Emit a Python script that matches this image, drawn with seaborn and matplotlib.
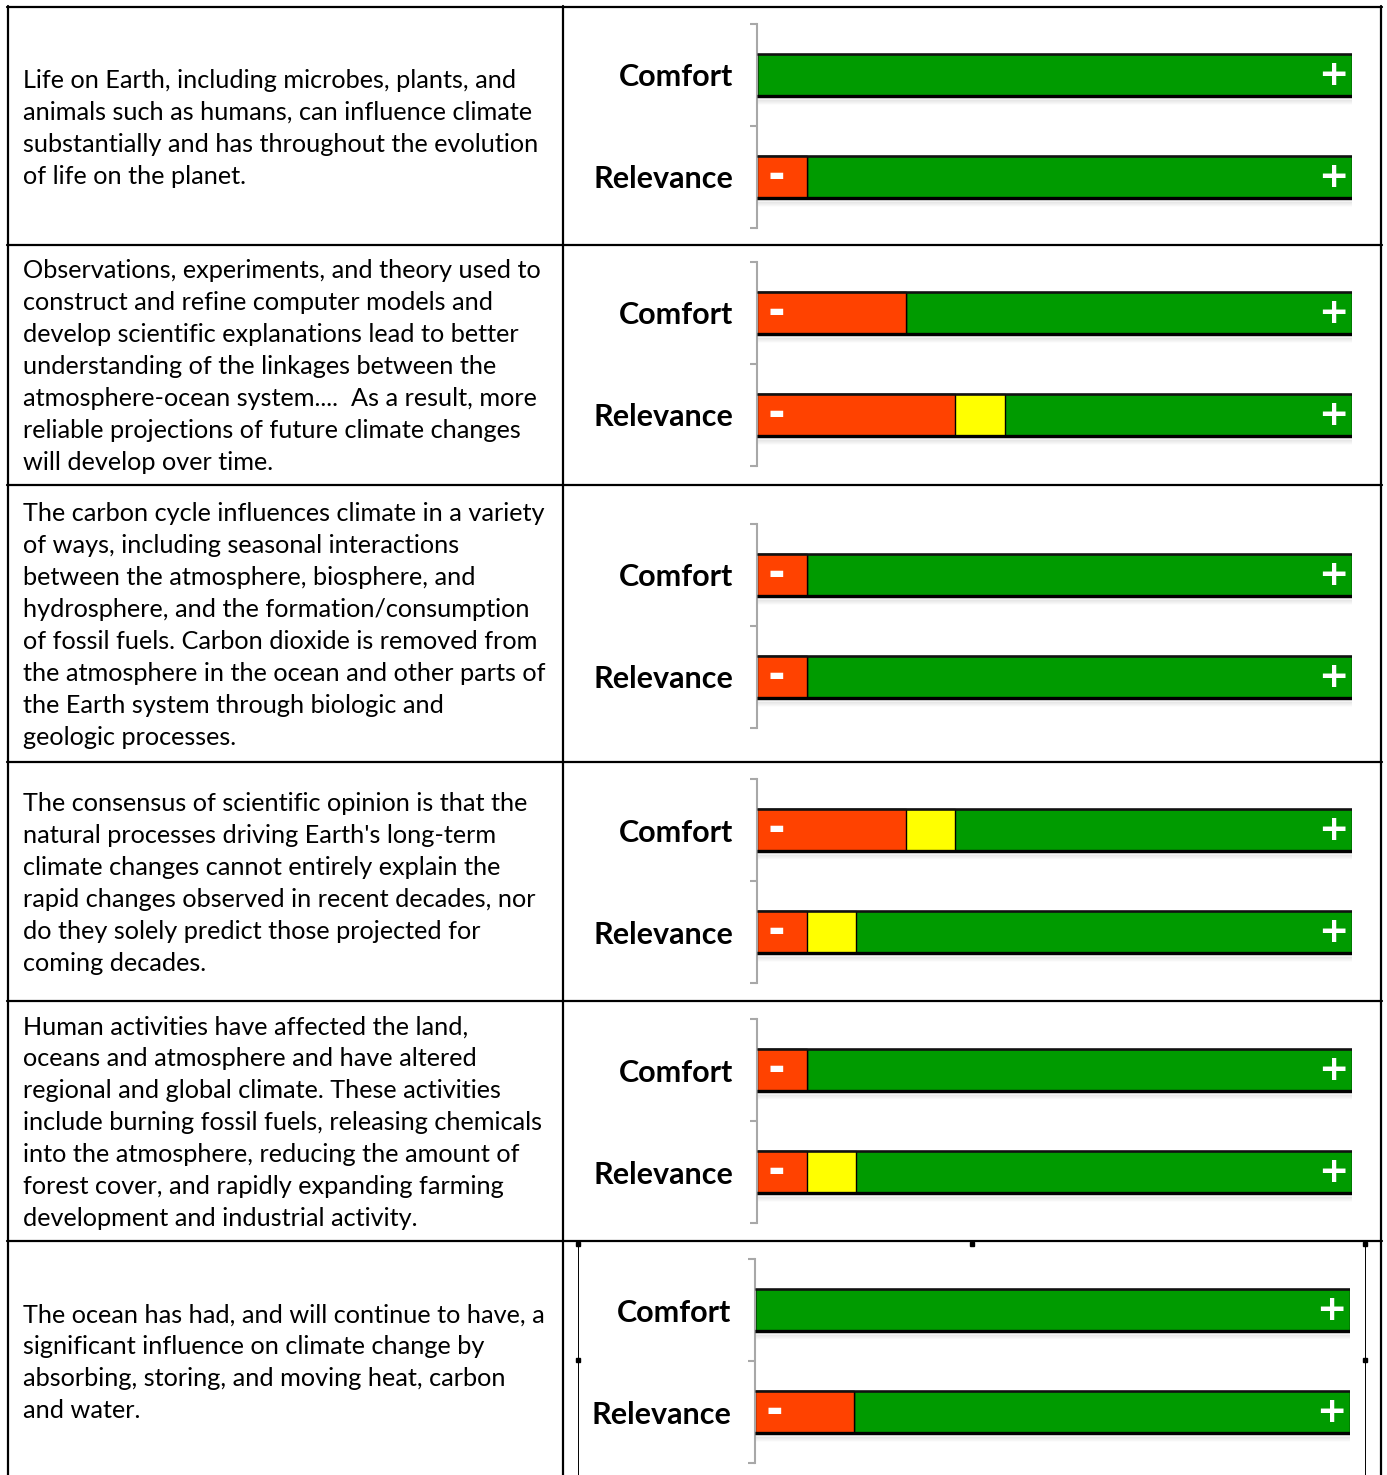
import matplotlib
matplotlib.use('Agg')
import matplotlib.pyplot as plt
from matplotlib.lines import Line2D
import pandas as pd
import seaborn as sns

W, H = 1387, 1475

statements = [
    ["Life on Earth, including microbes, plants, and",
     "animals such as humans, can influence climate",
     "substantially and has throughout the evolution",
     "of life on the planet."],
    ["Observations, experiments, and theory used to",
     "construct and refine computer models and",
     "develop scientific explanations lead to better",
     "understanding of the linkages between the",
     "atmosphere-ocean system....  As a result, more",
     "reliable projections of future climate changes",
     "will develop over time."],
    ["The carbon cycle influences climate in a variety",
     "of ways, including seasonal interactions",
     "between the atmosphere, biosphere, and",
     "hydrosphere, and the formation/consumption",
     "of fossil fuels. Carbon dioxide is removed from",
     "the atmosphere in the ocean and other parts of",
     "the Earth system through biologic and",
     "geologic processes."],
    ["The consensus of scientific opinion is that the",
     "natural processes driving Earth's long-term",
     "climate changes cannot entirely explain the",
     "rapid changes observed in recent decades, nor",
     "do they solely predict those projected for",
     "coming decades."],
    ["Human activities have affected the land,",
     "oceans and atmosphere and have altered",
     "regional and global climate. These activities",
     "include burning fossil fuels, releasing chemicals",
     "into the atmosphere, reducing the amount of",
     "forest cover, and rapidly expanding farming",
     "development and industrial activity."],
    ["The ocean has had, and will continue to have, a",
     "significant influence on climate change by",
     "absorbing, storing, and moving heat, carbon",
     "and water."],
]

measures = ['Comfort', 'Relevance']
comfort_red = [0, 3, 1, 3, 1, 0]
comfort_yellow = [0, 0, 0, 1, 0, 0]
relevance_red = [1, 4, 1, 1, 1, 2]
relevance_yellow = [0, 1, 0, 1, 1, 0]
scale_max = 12

RED = '#ff4200'
YELLOW = '#ffff00'
GREEN = '#009b00'
GRAY = '#a8a8a8'

sns.set_theme(style='white')
plt.rcParams['font.family'] = ['Lato', 'DejaVu Sans']
plt.rcParams['text.color'] = 'black'
plt.rcParams['ytick.labelcolor'] = 'black'

fig = plt.figure(figsize=(W / 100, H / 100), dpi=100)


def fx(px):
    return px / W


def fy(py):
    return 1 - py / H


# table grid
row_edges = [7, 245, 485, 762, 1001, 1241, 1481]
for y in row_edges[:-1]:
    fig.add_artist(Line2D([fx(7), fx(1382)], [fy(y), fy(y)], color='black', lw=1.6))
for x in [8, 563, 1381]:
    fig.add_artist(Line2D([fx(x), fx(x)], [fy(6), fy(1475)], color='black', lw=1.6))

# frame around the last chart
fig.add_artist(Line2D([fx(578), fx(578)], [fy(1243), fy(1475)], color='black', lw=0.7))
fig.add_artist(Line2D([fx(1365), fx(1365)], [fy(1243), fy(1475)], color='black', lw=0.7))
for hx, hy in [(578, 1244), (972, 1244), (1365, 1244), (578, 1360), (1365, 1360)]:
    fig.add_artist(Line2D([fx(hx)], [fy(hy)], marker='s', ms=2.5, color='black', lw=0))

# statements
for i, lines in enumerate(statements):
    cy = (row_edges[i] + row_edges[i + 1]) / 2 + 2
    n = len(lines)
    for j, line in enumerate(lines):
        y = cy + (j - (n - 1) / 2) * 32
        fig.text(fx(23), fy(y), line, ha='left', va='center', fontsize=18.2, color='black')

# bar charts
chart_tops = [24, 262, 524, 779, 1019, 1259]
chart_lefts = [757, 757, 757, 757, 757, 755]
for i in range(6):
    ax = fig.add_axes([fx(chart_lefts[i]), fy(chart_tops[i] + 204), 595 / W, 204 / H])
    red = [comfort_red[i], relevance_red[i]]
    ry = [comfort_red[i] + comfort_yellow[i], relevance_red[i] + relevance_yellow[i]]
    df = pd.DataFrame({'measure': measures, 'red': red, 'ry': ry,
                       'total': [scale_max, scale_max]})

    sns.barplot(data=df, x='total', y='measure', orient='h', color=GREEN, saturation=1,
                width=0.41, edgecolor='black', linewidth=1, errorbar=None, ax=ax)
    green_bars = list(ax.patches)
    sns.barplot(data=df, x='ry', y='measure', orient='h', color=YELLOW, saturation=1,
                width=0.41, edgecolor='black', linewidth=1, errorbar=None, ax=ax)
    sns.barplot(data=df, x='red', y='measure', orient='h', color=RED, saturation=1,
                width=0.41, edgecolor='black', linewidth=1, errorbar=None, ax=ax)

    ax.set_xlim(0, scale_max)
    ax.set_ylim(1.5, -0.5)

    for p in green_bars:
        y0, y1 = p.get_y(), p.get_y() + p.get_height()
        ax.hlines(y0, 0, scale_max, color='#111111', lw=1.8, zorder=5)
        ax.hlines(y1, 0, scale_max, color='black', lw=2.4, zorder=5)
        for k in range(7):
            ax.hlines(y1 + 0.012 * (k + 1), 0, scale_max, color='black',
                      alpha=0.09 * (7 - k) / 7, lw=1.2, zorder=1)

    for j in range(2):
        ax.text(scale_max - 0.38, j, '+', color='white', fontweight='bold', fontsize=26,
                ha='center', va='center', family='DejaVu Sans', zorder=6)
        if red[j] > 0:
            ax.text(0.4, j - 0.02, '\u25ac', color='white', fontsize=12,
                    ha='center', va='center', family='DejaVu Sans', zorder=6)

    ax.set_xlabel('')
    ax.set_ylabel('')
    ax.set_xticks([])
    for s in ['top', 'right', 'bottom']:
        ax.spines[s].set_visible(False)
    ax.spines['left'].set_color(GRAY)
    ax.spines['left'].set_linewidth(1.5)
    ax.set_yticks([-0.5, 0.5, 1.5], minor=True)
    ax.tick_params(axis='y', which='major', length=0, pad=17, labelsize=22,
                   labelcolor='black')
    ax.tick_params(axis='y', which='minor', left=True, length=5, width=1.5, color=GRAY,
                   direction='out')
    for lab in ax.get_yticklabels():
        lab.set_fontweight('bold')
    ax.set_facecolor('none')

fig.savefig('out.png', dpi=100)
